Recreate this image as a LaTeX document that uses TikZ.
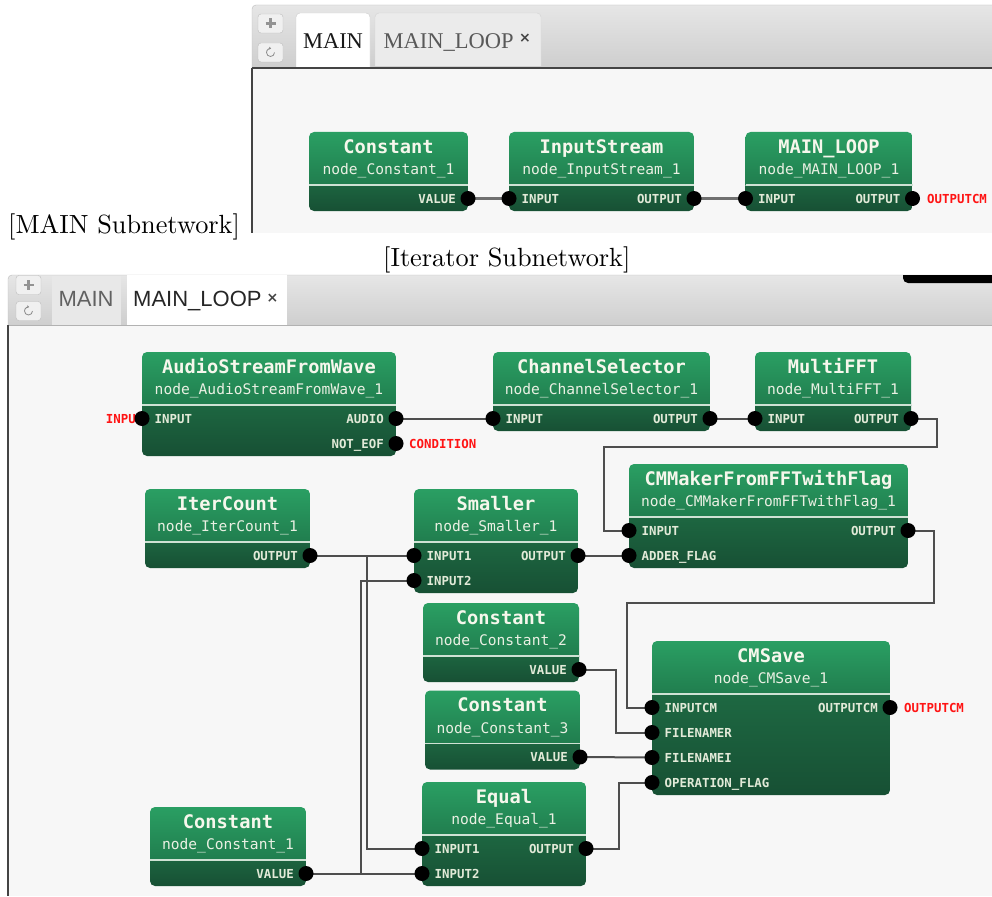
\documentclass[tikz,border=0pt]{standalone}
\usepackage{fontspec}
\usetikzlibrary{calc,fit,arrows.meta}
\newfontfamily\monofont{DejaVu Sans Mono}
\newfontfamily\serifui{Liberation Serif}
\newfontfamily\sansui{Liberation Sans}
\newfontfamily\symbolfont{DejaVu Sans}
\newfontfamily\capfont{lmroman10-regular.otf}

\definecolor{hdtop}{HTML}{2A9F63}
\definecolor{hdbot}{HTML}{1F784B}
\definecolor{pttop}{HTML}{1E6A43}
\definecolor{ptbot}{HTML}{175034}
\definecolor{sepcol}{HTML}{CFE2D4}
\definecolor{titlecol}{HTML}{F6F7EC}
\definecolor{subcol}{HTML}{EAF0E3}
\definecolor{portcol}{HTML}{E2EAD8}
\definecolor{extred}{HTML}{FF1414}
\definecolor{wirecol}{HTML}{4E4E4E}
\definecolor{mainwire}{HTML}{707070}
\definecolor{canvas}{HTML}{F7F7F7}
\definecolor{bartop}{HTML}{E6E6E6}
\definecolor{barbot}{HTML}{CACACA}
\definecolor{barline}{HTML}{BDBDBD}
\definecolor{frame}{HTML}{444444}

\pgfdeclarelayer{panel}
\pgfdeclarelayer{wires}
\pgfsetlayers{panel,wires,main}

\tikzset{
  titletext/.style={font=\monofont\bfseries\fontsize{18.7}{20}\selectfont, text=titlecol,
    inner sep=0pt, text height=13.6pt, text depth=0pt},
  subtext/.style={font=\monofont\fontsize{14.6}{16}\selectfont, text=subcol,
    inner sep=0pt, text height=10.6pt, text depth=0pt},
  portlabel/.style={font=\monofont\bfseries\fontsize{12.4}{14}\selectfont, text=portcol,
    inner sep=0pt, text height=9pt, text depth=0pt},
  extlabel/.style={portlabel, text=extred},
  portdot/.style={circle, fill=black, inner sep=0pt, minimum size=15pt},
  wire/.style={draw=wirecol, line width=2pt},
  mainlink/.style={draw=mainwire, line width=2.6pt},
  sepline/.style={draw=sepcol, line width=1.4pt},
  uibutton/.style={draw=barline, fill=bartop!60!white, rounded corners=3pt,
    minimum width=25pt, minimum height=19pt, inner sep=0pt},
  caption/.style={font=\capfont\fontsize{26.3}{30}\selectfont, inner sep=0pt},
  serifstab/.style={font=\serifui\fontsize{22.5}{24}\selectfont, inner sep=0pt,
    text height=15pt, text depth=0pt},
  sanstab/.style={font=\sansui\fontsize{22}{24}\selectfont, inner sep=0pt,
    text height=15.8pt, text depth=0pt},
  closemark/.style={font=\symbolfont\bfseries\fontsize{14}{14}\selectfont, inner sep=0pt, text=frame},
}

% rectangle with rounded top corners only
\newcommand\roundtop[5]{%
  \begin{scope}
    \clip (#1-1,#2-1) rectangle (#3+1,#4);
    \path[#5, rounded corners=4pt] (#1,#2) rectangle (#3,#4+10);
  \end{scope}}

% processing block: id, left x, right x, top y, port rows, type, instance
\newcommand\netblock[7]{%
  \pgfmathsetmacro\sepy{#4+53}%
  \pgfmathsetmacro\boty{#4+79+25*(#5-1)}%
  \begin{scope}
    \clip (#2,#4) rectangle (#3,\sepy);
    \shade[top color=hdtop, bottom color=hdbot, rounded corners=5pt] (#2,#4) rectangle (#3,\sepy+8);
  \end{scope}
  \begin{scope}
    \clip (#2,\sepy) rectangle (#3,\boty);
    \shade[top color=pttop, bottom color=ptbot, rounded corners=5pt] (#2,\sepy-8) rectangle (#3,\boty);
  \end{scope}
  \draw[sepline] (#2,\sepy) -- (#3,\sepy);
  \coordinate (#1-nw) at (#2,#4);
  \coordinate (#1-se) at (#3,\boty);
  \node[fit=(#1-nw)(#1-se), inner sep=0pt] (#1) {};
  \node[titletext] (#1-t) at ({(#2+#3)/2},#4+14.5) {#6};
  \node[subtext] (#1-s) at ({(#2+#3)/2},#4+37.5) {#7};
}

% ports: block id, row, port id, label
\newcommand\inport[4]{%
  \node[portdot] (#1-#3) at ($(#1-nw)+(0,{66.5+25*(#2-1)})$) {};
  \node[portlabel, anchor=west] (#1-#3-lbl) at ($(#1-#3.center)+(12.5,0)$) {#4};
}
\newcommand\outport[4]{%
  \node[portdot] (#1-#3) at ($(#1-nw -| #1-se)+(0,{66.5+25*(#2-1)})$) {};
  \node[portlabel, anchor=east] (#1-#3-lbl) at ($(#1-#3.center)+(-12,0)$) {#4};
}

% tool buttons at the left end of a tab bar
\newcommand\toolbuttons[4]{% id, x centre, y of plus button, y of refresh button
  \node[uibutton] (#1-add) at (#2,#3) {};
  \draw[draw=gray!85, line width=2.3pt] ($(#1-add.center)+(-5,0)$) -- ($(#1-add.center)+(5,0)$)
    ($(#1-add.center)+(0,-5)$) -- ($(#1-add.center)+(0,5)$);
  \node[uibutton] (#1-reload) at (#2,#4) {};
  \draw[draw=gray!90, line width=0.8pt, -{Stealth[length=2.4pt,width=3pt]}]
    ($(#1-reload.center)+(4,0)$) arc[start angle=0, end angle=280, radius=4];
}

\begin{document}
\begin{tikzpicture}[x=1pt,y=-1pt]
\useasboundingbox (0,0) rectangle (992,896);

\begin{pgfonlayer}{panel}
  \fill[white] (0,0) rectangle (992,896);
  % upper editor panel
  \fill[canvas] (252,68) rectangle (992,233);
  \roundtop{252}{5}{1000}{68}{top color=bartop, bottom color=barbot, draw=barline}
  \roundtop{375}{13}{541}{66}{fill=black!8, draw=black!17}
  \roundtop{296}{13}{370}{68}{fill=white, draw=black!20}
  \draw[frame, line width=1.6pt] (252,68) -- (992,68);
  \draw[frame, line width=1.6pt] (252,68) -- (252,233);
  % lower editor panel
  \fill[canvas] (8,325) rectangle (992,896);
  \roundtop{8}{275}{1000}{325}{top color=bartop, bottom color=barbot, draw=barline}
  \begin{scope}
    \clip (903,275) rectangle (992,283);
    \fill[black, rounded corners=5pt] (903,265) rectangle (1000,283);
  \end{scope}
  \fill[black!9] (52,276) rectangle (121,325);
  \fill[white] (127,275) rectangle (287,325);
  \draw[black!30, line width=1pt] (8,325) -- (992,325);
  \draw[frame, line width=1.6pt] (8,325) -- (8,896);
\end{pgfonlayer}

% tab bars
\toolbuttons{tb}{270.5}{23.5}{52.5}
\node[serifstab, text=black!90] (tabmain) at (333,41) {MAIN};
\node[serifstab, text=black!65, anchor=west] (tabloop) at (383.5,41) {MAIN\_LOOP};
\node[closemark] (tabclose) at (525,38) {×};

\toolbuttons{bb}{28.5}{285}{311}
\node[sanstab, text=black!62] (btabmain) at (86,299) {MAIN};
\node[sanstab, text=black!85, anchor=west] (btabloop) at (133,299) {MAIN\_LOOP};
\node[closemark] (btabclose) at (272.5,298) {×};

% captions
\node[caption, anchor=base west] (capmain) at (8,233.5) {[MAIN Subnetwork]};
\node[caption, anchor=base west] (capiter) at (383,266.5) {[Iterator Subnetwork]};

% ---------- MAIN network ----------
\netblock{mc}{309}{468}{132}{1}{Constant}{node\_Constant\_1}
\outport{mc}{1}{val}{VALUE}
\netblock{mis}{509}{694}{132}{1}{InputStream}{node\_InputStream\_1}
\inport{mis}{1}{in}{INPUT}
\outport{mis}{1}{out}{OUTPUT}
\netblock{mloop}{745.5}{912.5}{132}{1}{MAIN\_LOOP}{node\_MAIN\_LOOP\_1}
\inport{mloop}{1}{in}{INPUT}
\outport{mloop}{1}{out}{OUTPUT}

% ---------- MAIN_LOOP network ----------
\netblock{audio}{142}{396}{352}{2}{AudioStreamFromWave}{node\_AudioStreamFromWave\_1}
\inport{audio}{1}{in}{INPUT}
\outport{audio}{1}{audio}{AUDIO}
\outport{audio}{2}{eof}{NOT\_EOF}

\netblock{chsel}{493}{710}{352}{1}{ChannelSelector}{node\_ChannelSelector\_1}
\inport{chsel}{1}{in}{INPUT}
\outport{chsel}{1}{out}{OUTPUT}

\netblock{fft}{755}{911}{352}{1}{MultiFFT}{node\_MultiFFT\_1}
\inport{fft}{1}{in}{INPUT}
\outport{fft}{1}{out}{OUTPUT}

\netblock{cmk}{629}{908}{464}{2}{CMMakerFromFFTwithFlag}{node\_CMMakerFromFFTwithFlag\_1}
\inport{cmk}{1}{in}{INPUT}
\inport{cmk}{2}{flag}{ADDER\_FLAG}
\outport{cmk}{1}{out}{OUTPUT}

\netblock{iter}{145}{310}{489}{1}{IterCount}{node\_IterCount\_1}
\outport{iter}{1}{out}{OUTPUT}

\netblock{sml}{414}{578}{489}{2}{Smaller}{node\_Smaller\_1}
\inport{sml}{1}{in1}{INPUT1}
\inport{sml}{2}{in2}{INPUT2}
\outport{sml}{1}{out}{OUTPUT}

\netblock{cst2}{423}{579}{603}{1}{Constant}{node\_Constant\_2}
\outport{cst2}{1}{val}{VALUE}

\netblock{cst3}{425}{580}{690.5}{1}{Constant}{node\_Constant\_3}
\outport{cst3}{1}{val}{VALUE}

\netblock{save}{652}{890}{641}{4}{CMSave}{node\_CMSave\_1}
\inport{save}{1}{incm}{INPUTCM}
\inport{save}{2}{fnr}{FILENAMER}
\inport{save}{3}{fni}{FILENAMEI}
\inport{save}{4}{opf}{OPERATION\_FLAG}
\outport{save}{1}{out}{OUTPUTCM}

\netblock{eq}{422}{586}{782}{2}{Equal}{node\_Equal\_1}
\inport{eq}{1}{in1}{INPUT1}
\inport{eq}{2}{in2}{INPUT2}
\outport{eq}{1}{out}{OUTPUT}

\netblock{cst1}{150}{306}{807}{1}{Constant}{node\_Constant\_1}
\outport{cst1}{1}{val}{VALUE}

% ---------- connections and network terminals ----------
\begin{pgfonlayer}{wires}
  \draw[mainlink] (mc-val.center) -- (mis-in.center);
  \draw[mainlink] (mis-out.center) -- (mloop-in.center);
  \node[extlabel, anchor=west] (mterm) at ($(mloop-out.center)+(14.5,0)$) {OUTPUTCM};

  \draw[wire] (audio-audio.center) -- (chsel-in.center);
  \draw[wire] (chsel-out.center) -- (fft-in.center);
  \draw[wire] (fft-out.center) -- ++(26,0) |- ($(cmk-in.center)+(-25,-83.5)$) |- (cmk-in.center);
  \draw[wire] (cmk-out.center) -- ++(26,0) |- ($(save-incm.center)+(-25,-104.5)$) |- (save-incm.center);
  \draw[wire] (sml-out.center) -- (cmk-flag.center);
  \draw[wire] (iter-out.center) -- (sml-in1.center);
  \draw[wire] (iter-out.center) -| ($(eq-in1.center)+(-55,0)$) -- (eq-in1.center);
  \draw[wire] (cst1-val.center) -- (eq-in2.center);
  \draw[wire] (cst1-val.center) -| ($(sml-in2.center)+(-53,0)$) -- (sml-in2.center);
  \draw[wire] (cst2-val.center) -| ($(save-fnr.center)+(-36,0)$) -- (save-fnr.center);
  \draw[wire] (cst3-val.center) -- (save-fni.center);
  \draw[wire] (eq-out.center) -| ($(save-opf.center)+(-33,0)$) -- (save-opf.center);

  \node[extlabel, anchor=east] (lterm-in) at ($(audio-in.center)+(1.5,0)$) {INPUT};
  \node[extlabel, anchor=west] (lterm-cond) at ($(audio-eof.center)+(13,0)$) {CONDITION};
  \node[extlabel, anchor=west] (lterm-out) at ($(save-out.center)+(14,0)$) {OUTPUTCM};
\end{pgfonlayer}
\end{tikzpicture}
\end{document}
